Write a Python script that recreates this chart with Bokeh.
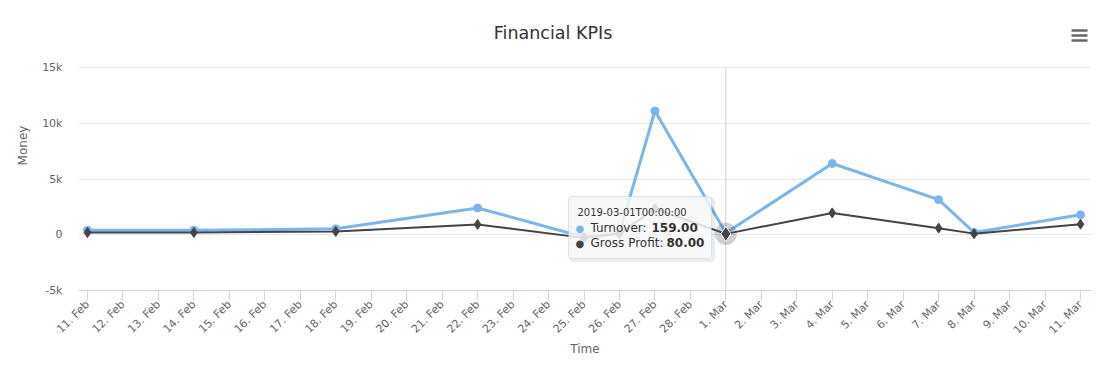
import pandas as pd
from bokeh.plotting import figure
from bokeh.models import Range1d, FixedTicker, BoxAnnotation, Label
from bokeh.embed import file_html
from bokeh.resources import INLINE

# ---------------- data ----------------
dates = ["2019-02-11", "2019-02-14", "2019-02-18", "2019-02-22", "2019-02-25",
         "2019-02-26", "2019-02-27", "2019-03-01", "2019-03-04", "2019-03-07",
         "2019-03-08", "2019-03-11"]
turnover = [400, 400, 530, 2400, -200, 150, 11100, 159, 6390, 3150, 200, 1790]
gross_profit = [200, 200, 300, 920, -280, 100, 2330, 80, 1960, 590, 100, 950]

y_ticks = [-5000, 0, 5000, 10000, 15000]
y_tick_labels = ["-5k", "0", "5k", "10k", "15k"]
tick_days = pd.date_range("2019-02-11", "2019-03-11", freq="D")
x_tick_labels = [f"{d.day}. {d.strftime('%b')}" for d in tick_days]

title_text = "Financial KPIs"
hover_date = "2019-03-01"
hover_turnover = 159.00
hover_gross = 80.00

FONT = "DejaVu Sans"
BLUE = "#7cb5ec"
DARK = "#434348"

# ---------------- geometry (reference pixels) ----------------
FRAME_L, FRAME_R = 78, 1091          # plot area left/right
FRAME_T, FRAME_B = 0, 290            # frame extended up so header items live inside it
Y15_PX = 67                          # pixel row of the 15k gridline

x = pd.to_datetime(dates)
DAY = 86400000.0
t0 = pd.Timestamp("2019-02-11").value / 1e6
t1 = pd.Timestamp("2019-03-11").value / 1e6
x_start = t0 - 0.2538 * DAY
x_end = t1 + 0.310 * DAY
per_px = 20000.0 / (FRAME_B - Y15_PX)
y_lo = -5000
y_hi = 15000 + (Y15_PX - FRAME_T) * per_px

p = figure(frame_width=FRAME_R - FRAME_L, frame_height=FRAME_B - FRAME_T,
           x_axis_type="datetime",
           x_range=Range1d(x_start, x_end), y_range=Range1d(y_lo, y_hi),
           output_backend="svg", toolbar_location=None,
           min_border_left=FRAME_L, min_border_right=9, min_border_top=FRAME_T,
           min_border_bottom=76)
p.outline_line_color = None
p.background_fill_color = "white"
p.border_fill_color = "white"

# axes
xt = [int(d.value // 10**6) for d in tick_days]
p.xaxis.ticker = FixedTicker(ticks=xt)
p.xaxis.major_label_overrides = {k: v for k, v in zip(xt, x_tick_labels)}
p.xaxis.major_label_orientation = 0.785398
p.xaxis.axis_line_color = "#ccd6eb"
p.xaxis.major_tick_line_color = "#ccd6eb"
p.xaxis.major_tick_out = 10
p.xaxis.major_tick_in = 0
p.xaxis.minor_tick_line_color = None
p.xaxis.axis_label = "Time"
p.xaxis.major_label_standoff = 2
p.xaxis.axis_label_standoff = -2

p.yaxis.ticker = FixedTicker(ticks=y_ticks)
p.yaxis.major_label_overrides = {k: v for k, v in zip(y_ticks, y_tick_labels)}
p.yaxis.axis_line_color = None
p.yaxis.major_tick_line_color = None
p.yaxis.minor_tick_line_color = None
p.yaxis.major_tick_out = 0
p.yaxis.major_label_standoff = 16
p.yaxis.axis_label = "Money"
p.yaxis.axis_label_standoff = 9

for ax in (p.xaxis, p.yaxis):
    ax.major_label_text_font = FONT
    ax.major_label_text_font_size = "11px"
    ax.major_label_text_color = "#666666"
    ax.axis_label_text_font = FONT
    ax.axis_label_text_font_size = "12px"
    ax.axis_label_text_font_style = "normal"
    ax.axis_label_text_color = "#666666"

p.xgrid.grid_line_color = None
p.ygrid.ticker = FixedTicker(ticks=y_ticks)
p.ygrid.grid_line_color = "#e6e6e6"

# crosshair over the plot area (-5k .. 15k)
hx = pd.Timestamp(hover_date)
p.segment(x0=[hx], y0=[y_ticks[0]], x1=[hx], y1=[y_ticks[-1]],
          line_color="#cccccc", line_width=1)

# series
p.line(x, turnover, line_color=BLUE, line_width=3)
p.scatter(x, turnover, marker="circle", size=8, fill_color=BLUE, line_color=BLUE)
p.scatter([hx], [hover_gross], marker="circle", size=22, fill_color=DARK,
          fill_alpha=0.25, line_color=None)
p.line(x, gross_profit, line_color=DARK, line_width=2)
p.scatter(x, gross_profit, marker="diamond", size=10, fill_color=DARK, line_color=DARK)
p.scatter([hx], [hover_gross], marker="diamond", size=15, fill_color=DARK,
          line_color="white", line_width=1)


# ---------- pixel helpers for decorations ----------
def sx(px):
    return x_start + (px - FRAME_L) / float(FRAME_R - FRAME_L) * (x_end - x_start)


def sy(py):
    return y_hi - (py - FRAME_T) * per_px


def lab(px, py, text, size, color="#333333", style="normal", align="left"):
    p.add_layout(Label(x=sx(px), y=sy(py), text=text, text_font=FONT,
                       text_font_size=size, text_color=color, text_font_style=style,
                       text_baseline="middle", text_align=align))


# title
lab(552.5, 32, title_text, "17.5px", align="center")

# menu icon
for yy in (30, 35, 40):
    p.segment(x0=[sx(1071)], y0=[sy(yy)], x1=[sx(1087)], y1=[sy(yy)],
              line_color="#666666", line_width=2.5, line_cap="butt")

# tooltip
p.add_layout(BoxAnnotation(left=sx(570), right=sx(713), top=sy(198), bottom=sy(260),
                           fill_color="black", fill_alpha=0.0, line_color="black",
                           line_alpha=0.08, line_width=3, border_radius=3))
p.add_layout(BoxAnnotation(left=sx(568), right=sx(711), top=sy(196), bottom=sy(258),
                           fill_color="#f7f7f7", fill_alpha=0.85, line_color=BLUE,
                           line_width=1, border_radius=3))

lab(577, 212, hx.strftime("%Y-%m-%dT%H:%M:%S"), "10px")
lab(575, 228, "●", "10px", color=BLUE)
lab(590, 227, "Turnover: ", "12px")
lab(651, 227, f"{hover_turnover:.2f}", "12px", style="bold")
lab(575, 243, "●", "10px", color=DARK)
lab(590, 242, "Gross Profit: ", "12px")
lab(666, 242, f"{hover_gross:.2f}", "12px", style="bold")

open("out.html", "w").write(file_html(p, INLINE))
